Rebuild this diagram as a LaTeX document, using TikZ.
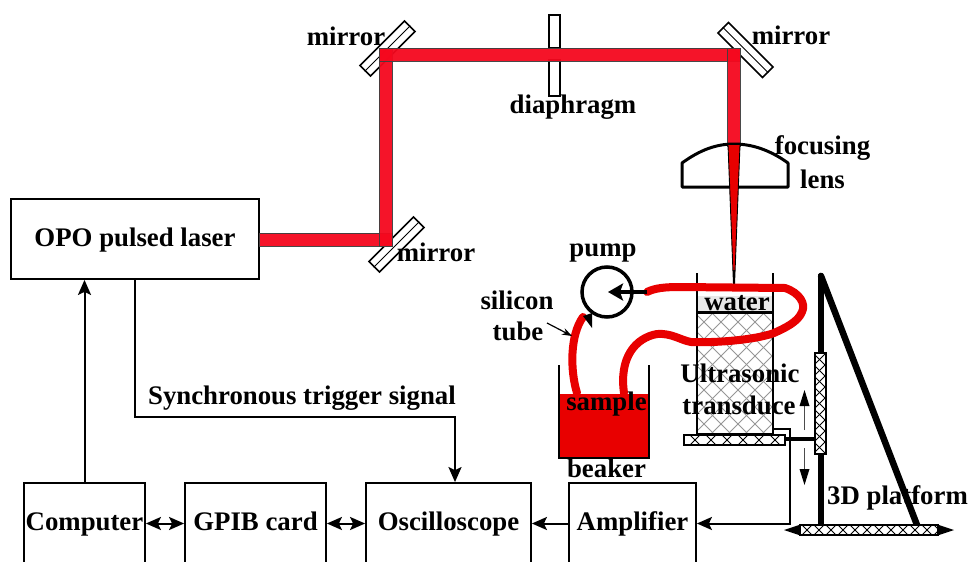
\documentclass[tikz,border=0pt]{standalone}
\usepackage{fontspec}
\setmainfont{Liberation Serif}
\usetikzlibrary{arrows.meta}
\definecolor{beamred}{RGB}{245,8,30}
\definecolor{sampred}{RGB}{232,0,0}
\definecolor{waterg}{RGB}{232,232,232}
\definecolor{hatchg}{RGB}{150,150,150}
% hatched rectangle: x1, y1, x2, y2, spacing, colour
\newcommand{\hatchbox}[6]{%
  \begin{scope}
    \clip (#1,#2) rectangle (#3,#4);
    \pgfmathsetmacro{\hh}{#4-#2}
    \pgfmathsetmacro{\xs}{#1-\hh}
    \pgfmathsetmacro{\xn}{#1-\hh+#5}
    \foreach \k in {\xs,\xn,...,#3} {
      \draw[#6, line width=0.8pt] (\k,#2) -- (\k+\hh,#4);
      \draw[#6, line width=0.8pt] (\k+\hh,#2) -- (\k,#4);
    }
  \end{scope}
  \draw[line width=1.3pt] (#1,#2) rectangle (#3,#4);}
\tikzset{
  bigtip/.tip={Stealth[length=15pt,width=13pt,inset=3pt]},
  lbl/.style={font=\fontsize{26.8}{28}\selectfont\bfseries, inner sep=0pt},
  blockbox/.style={draw, line width=1.8pt, inner sep=0pt, text height=20pt, text depth=6pt, lbl},
  mirrorbox/.style={draw, line width=1.6pt, fill=white, minimum width=63pt, minimum height=15pt, inner sep=0pt},
  beam/.style={fill=beamred, draw=black!75, line width=1pt, opacity=0.95},
  tube/.style={draw=sampred, line width=8pt, line cap=round, line join=round},
  wire/.style={line width=2pt},
  stand/.style={line width=6.5pt, line cap=round}
}
\begin{document}
\begin{tikzpicture}[x=1pt, y=-1pt]
  \clip (0,0) rectangle (969,562);
  \useasboundingbox (0,0) rectangle (969,562);
  \fill[white] (0,0) rectangle (969,562);

  % instrument blocks
  \node[blockbox, minimum width=248pt, minimum height=80pt] (laser) at (135,239) {OPO pulsed laser};
  \node[blockbox, minimum width=121pt, minimum height=81pt] (computer) at (84.5,523.5) {Computer};
  \node[blockbox, minimum width=141pt, minimum height=81pt] (gpib) at (255.5,523.5) {GPIB card};
  \node[blockbox, minimum width=165pt, minimum height=81pt] (scope) at (448.5,523.5) {Oscilloscope};
  \node[blockbox, minimum width=127pt, minimum height=81pt] (amp) at (632.5,523.5) {Amplifier};

  % mirrors and diaphragm
  \node[mirrorbox, rotate=45] (mirrorA) at (387.5,48.5) {};
  \node[mirrorbox, rotate=-45] (mirrorB) at (745.5,50) {};
  \node[mirrorbox, rotate=45] (mirrorC) at (396.5,244.5) {};
  \draw[line width=1pt] (mirrorA.west) -- (mirrorA.east);
  \draw[line width=1pt] (mirrorB.west) -- (mirrorB.east);
  \draw[line width=1pt] (mirrorC.west) -- (mirrorC.east);
  \draw[line width=1.6pt, fill=white] (549,15) rectangle (560,48);
  \draw[line width=1.6pt, fill=white] (549,60) rectangle (560,96);

  % laser beam
  \draw[beam] (259,233) rectangle (392,246);
  \draw[beam] (379,48) rectangle (392,246);
  \draw[beam] (379,48) rectangle (740,61);
  \draw[beam] (727.5,48) rectangle (740,146);

  % focusing lens
  \draw[line width=3pt, line join=round] (682,163) .. controls (700,150) and (716,144) .. (734,144)
    .. controls (752,144) and (770,150) .. (788,163) -- (788,187) -- (682,187) -- cycle;
  \fill[sampred] (728,145) -- (740,145) -- (734.5,285) -- (733.5,285) -- cycle;
  \draw[line width=0.9pt] (728,145) -- (733.5,285);
  \draw[line width=0.9pt] (740,145) -- (734.5,285);
  \draw[line width=1.2pt] (734,270) -- (734,288);

  % water cell and transducer
  \fill[waterg] (697,296) rectangle (773,312);
  \hatchbox{697}{312}{773}{434}{17}{hatchg}
  \draw[line width=1.8pt] (697,273) -- (697,434);
  \draw[line width=1.8pt] (773,273) -- (773,434);
  \draw[line width=3pt] (697,312) -- (773,312);
  \hatchbox{684}{435}{785}{445}{16}{black}

  % beaker with sample
  \fill[sampred] (559,394) rectangle (649,458);
  \draw[line width=2pt] (559,365) -- (559,458) -- (649,458) -- (649,365);

  % pump and silicon tube
  \draw[line width=3.5pt] (607,292) circle (25);
  \draw[tube] (647,292) .. controls (655,288) and (665,287) .. (680,287) -- (785,288)
    .. controls (800,293) and (806,304) .. (802,312) .. controls (798,322) and (785,328) .. (774,333)
    .. controls (755,340) and (715,343) .. (691,342) .. controls (680,340) and (672,333) .. (657,334)
    .. controls (635,338) and (619,358) .. (624,393);
  \draw[tube] (577,393) .. controls (570,370) and (570,335) .. (583,317);
  \fill (583,316) -- (592,313) -- (592,328) -- cycle;
  \draw[line width=3.2pt, -{Stealth[length=15pt,width=17pt,inset=3pt]}] (647,292) -- (608,292);
  \draw[line width=1.2pt, -{Stealth[length=10pt,width=7pt]}] (547,323) -- (572,336);

  % translation stage
  \draw[stand] (821,276) -- (821,525);
  \draw[stand] (821,276) -- (917,525);
  \draw[line width=3.5pt] (785,439) -- (816,439);
  \fill[white] (815,353) rectangle (826,454);
  \hatchbox{815}{353}{826}{454}{11}{black}
  \fill (784,530) -- (802,524) -- (802,536) -- cycle;
  \fill (954,530) -- (936,524) -- (936,536) -- cycle;
  \fill[white] (800,525) rectangle (938,535);
  \hatchbox{800}{525}{938}{535}{12}{black}
  \draw[line width=1.2pt, black!70] (804.5,430) -- (804.5,400);
  \draw[line width=1.2pt, black!70] (804.5,448) -- (804.5,475);
  \fill (804.5,390) -- (809.5,406) -- (799.5,406) -- cycle;
  \fill (804.5,485) -- (809.5,469) -- (799.5,469) -- cycle;

  % signal wiring
  \coordinate (trig) at (455,417);
  \coordinate (ampin) at (789.5,523.5);
  \coordinate (probe) at (773,429);
  \draw[wire, -{bigtip}] (computer.north) -- (computer.north |- laser.south);
  \draw[wire, -{bigtip}] (laser.south) |- (trig) -- (trig |- scope.north);
  \draw[wire, {bigtip}-{bigtip}] (computer.east) -- (gpib.west);
  \draw[wire, {bigtip}-{bigtip}] (gpib.east) -- (scope.west);
  \draw[wire, -{bigtip}] (amp.west) -- (scope.east);
  \draw[wire, -{bigtip}] (probe) -| (ampin) -- (amp.east);

  % labels
  \node[lbl] (lblmirrorA) at (346,36) {mirror};
  \node[lbl] (lblmirrorB) at (791,35) {mirror};
  \node[lbl] (lblmirrorC) at (436,252) {mirror};
  \node[lbl] (lbldia) at (573,107) {diaphragm};
  \node[lbl] (lblfocus) at (822.5,148) {focusing};
  \node[lbl] (lbllens) at (822.5,179) {lens};
  \node[lbl] (lblpump) at (603,253) {pump};
  \node[lbl] (lblsilicon) at (517,300) {silicon};
  \node[lbl] (lbltube) at (518,331) {tube};
  \node[lbl] (lblwater) at (737,303) {water};
  \node[lbl] (lblsample) at (606.5,404) {sample};
  \node[lbl] (lblbeaker) at (606.5,468) {beaker};
  \node[lbl] (lblultra) at (740,373) {Ultrasonic};
  \node[lbl] (lbltrans) at (739,405) {transduce};
  \node[lbl] (lblplat) at (897.5,498) {3D platform};
  \node[lbl] (lblsync) at (302,398.5) {Synchronous trigger signal};
\end{tikzpicture}
\end{document}
